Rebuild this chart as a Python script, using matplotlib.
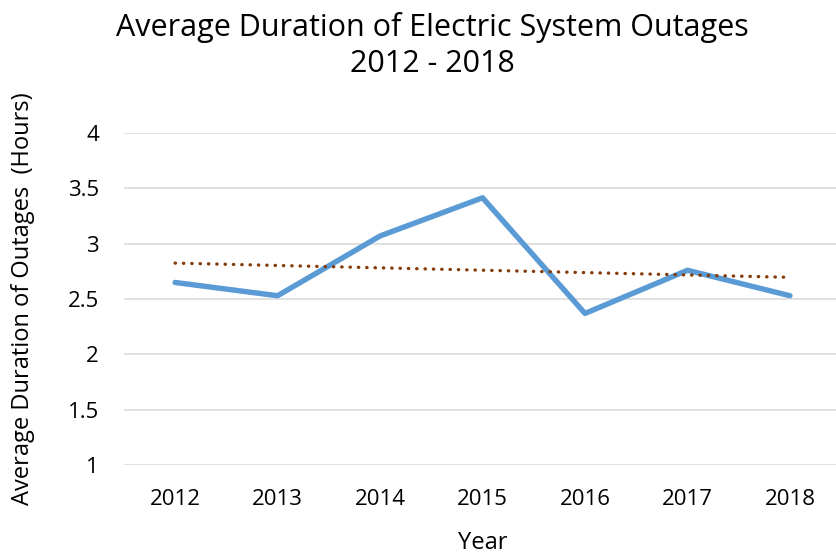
import numpy as np
import matplotlib.pyplot as plt

years = ['2012', '2013', '2014', '2015', '2016', '2017', '2018']
hours = [2.65, 2.53, 3.07, 3.415, 2.37, 2.76, 2.53]
yticks = [1, 1.5, 2, 2.5, 3, 3.5, 4]

plt.rcParams['font.family'] = ['Open Sans', 'DejaVu Sans']

fig = plt.figure(figsize=(8.37, 5.59), dpi=100)
ax = fig.add_axes([0.148, 0.168, 0.857, 0.594])

x = np.arange(len(years))
ax.plot(x, hours, color='#5B9BD5', lw=3.9, solid_capstyle='round', zorder=3)

# linear trendline
k, b = np.polyfit(x, hours, 1)
ax.plot(x, k * x + b, color='#843C0C', lw=2.4, ls=(0, (0.1, 2.4)),
        dash_capstyle='round', zorder=4)

ax.set_xlim(-0.5, len(years) - 0.5)
ax.set_ylim(1, 4)
ax.set_xticks(x)
ax.set_xticklabels(years)
ax.set_yticks(yticks)
ax.set_yticklabels([f'{t:g}' for t in yticks])
ax.grid(axis='y', color='#D9D9D9', lw=1.1)
ax.set_axisbelow(True)
for s in ax.spines.values():
    s.set_visible(False)
ax.tick_params(length=0, labelsize=16, colors='#000000')
ax.tick_params(axis='x', pad=17)
ax.tick_params(axis='y', pad=18)

ax.set_xlabel('Year', fontsize=17, va='center')
ax.xaxis.set_label_coords(0.5, -0.235)
ax.set_ylabel('Average Duration of Outages  (Hours)', fontsize=17, va='center')
ax.yaxis.set_label_coords(-0.14, 0.5)

fig.text(0.517, 0.9356, 'Average Duration of Electric System Outages',
         ha='center', va='baseline', fontsize=22)
fig.text(0.517, 0.871, '2012 - 2018', ha='center', va='baseline', fontsize=22)

fig.savefig('out.png', dpi=100)
